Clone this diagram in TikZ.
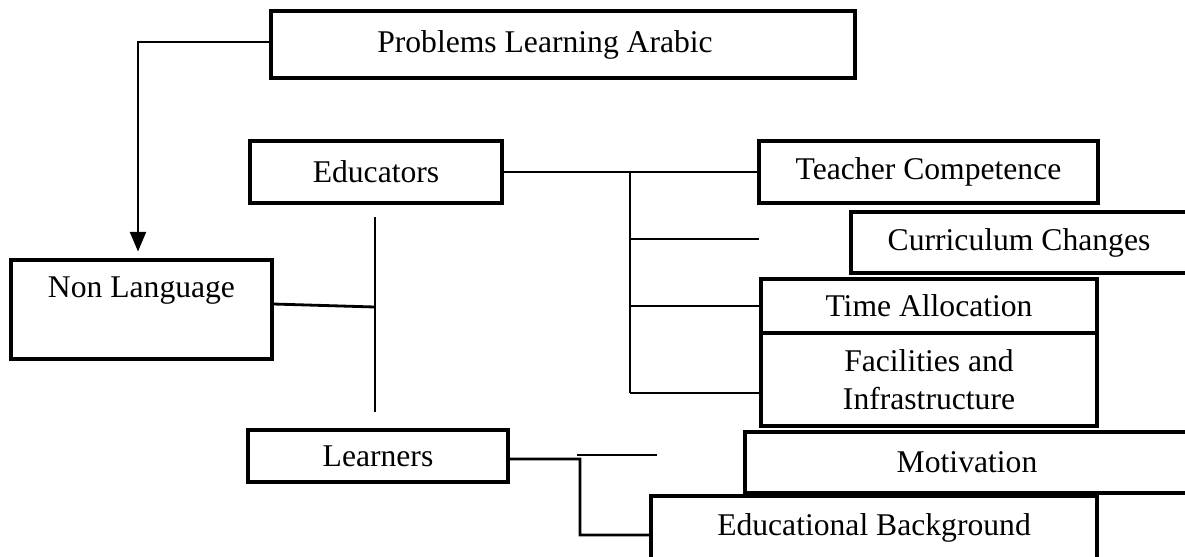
\documentclass[tikz,border=0pt]{standalone}
\usepackage{fontspec}
\setmainfont{Liberation Serif}
\usetikzlibrary{arrows,shapes,positioning,calc}
\tikzset{
  % Define standard arrow tip
  >=triangle 45,
  % Define style for boxes
  box/.style={
    rectangle,
    draw=black, line width=1.8pt,
    inner sep=0pt,
    font=\fontsize{18}{21.5}\selectfont,
    align=center},
  % Define style for box text
  boxtext/.style={
    font=\fontsize{18}{21.5}\selectfont},
  % Define arrow style
  arrow/.style={
    ->,
    line width=1.6pt,
    shorten >=0.14cm,},
  % line
  line/.style = {draw, line width=1.6pt},
}

\begin{document}
\begin{tikzpicture}[x=0.02cm, y=-0.02cm]
  \clip (0,0) rectangle (1185,556);
  % nodes
  \node[box, minimum width=11.68cm, minimum height=1.34cm,
    label={[boxtext, xshift=-0.36cm]center:Problems Learning Arabic}] (prob) at (563,44.5) {};
  \node[box, minimum width=5.22cm, minimum height=1.98cm,
    label={[boxtext, yshift=0.37cm]center:Non Language}] (nonlang) at (141.5,309.5) {};
  \node[box, minimum width=5.04cm, minimum height=1.24cm] (educ) at (376,172) {Educators};
  \node[box, minimum width=5.2cm, minimum height=1.04cm] (learn) at (378,456) {\raisebox{-0.1cm}{Learners}};
  \node[box, minimum width=6.78cm, minimum height=1.24cm] (teach) at (928.5,172) {Teacher Competence};
  \node[box, minimum width=6.72cm, minimum height=1.22cm] (curr) at (1019,242.5) {Curriculum Changes};
  \node[box, minimum width=6.72cm, minimum height=1.08cm] (time) at (929,306) {Time Allocation};
  \node[box, minimum width=6.72cm, minimum height=1.86cm] (facil) at (929,379.5) {Facilities and\\Infrastructure};
  \node[box, minimum width=8.88cm, minimum height=1.22cm] (motiv) at (967,462.5) {Motivation};
  \node[box, minimum width=8.92cm, minimum height=1.28cm] (edbg) at (874,528) {Educational Background};
  % coordinates
  \coordinate (vtop) at (375,217);
  \coordinate (vbot) at (375,412);
  \coordinate (vmid) at (375,307);
  \coordinate (brtop) at (630,172);
  \coordinate (brbot) at (630,393);
  \coordinate (currend) at (759,239);
  \coordinate (learnbr) at (580,459);
  \coordinate (stubl) at (577,455);
  \coordinate (stubr) at (657,455);
  % connectors
  \draw[arrow] ([yshift=0.05cm]prob.west) -| ([xshift=-0.07cm]nonlang.north);
  \path[line] (vtop) -- (vbot);
  \path[line] ([yshift=0.11cm]nonlang.east) -- (vmid);
  \path[line] (educ.east) -- (teach.west);
  \path[line] (brtop) -- (brbot);
  \path[line] (brtop |- currend) -- (currend);
  \path[line] (brtop |- time.west) -- (time.west);
  \path[line] (brbot) -- (brbot -| facil.west);
  \path[line] ([yshift=-0.06cm]learn.east) -- (learnbr) |- ([yshift=-0.14cm]edbg.west);
  \path[line] (stubl) -- (stubr);
\end{tikzpicture}
\end{document}
